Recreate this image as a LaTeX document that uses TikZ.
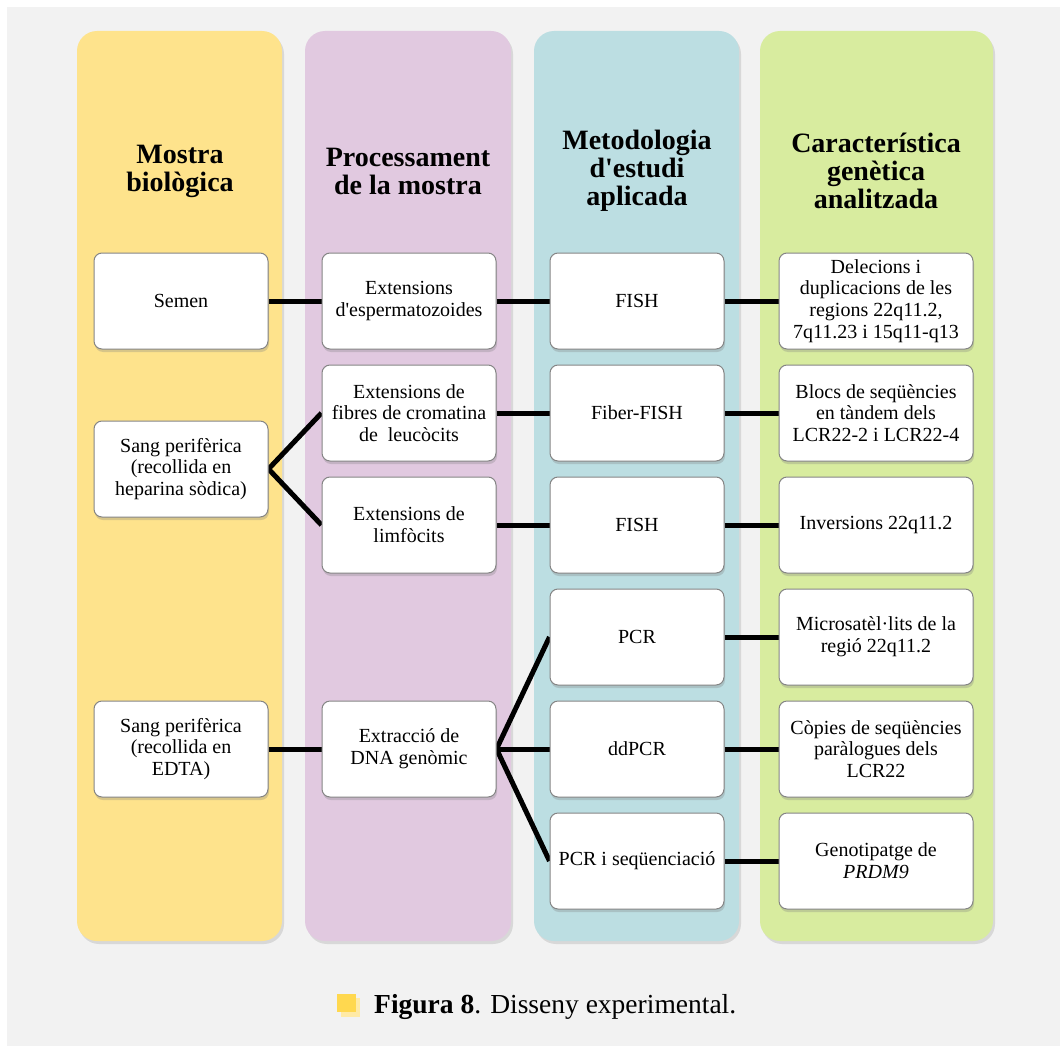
\documentclass[tikz,border=0pt]{standalone}
\usepackage{fontspec}
\setmainfont{Liberation Serif}[Ligatures=TeXOff]
\usetikzlibrary{shadows}
\definecolor{bggrey}{HTML}{F2F2F2}
\definecolor{colyel}{HTML}{FEE38C}
\definecolor{colpur}{HTML}{E1C9E0}
\definecolor{colblu}{HTML}{BCDEE2}
\definecolor{colgrn}{HTML}{D8EC9F}
\definecolor{icodark}{HTML}{FFD84F}
\definecolor{icolight}{HTML}{FFEAA6}
\definecolor{boxline}{HTML}{858585}
\pgfdeclarelayer{back}
\pgfdeclarelayer{mid}
\pgfsetlayers{back,mid,main}
\begin{document}
\begin{tikzpicture}[x=1pt,y=-1pt,
  colbox/.style={rounded corners=20pt, drop shadow={opacity=0.22,shadow xshift=2pt,shadow yshift=-3pt}},
  itembox/.style={draw=boxline, line width=1pt, fill=white, rounded corners=8pt,
    minimum width=174pt, minimum height=96pt, align=center, inner sep=2pt,
    font=\fontsize{20}{21.7}\selectfont,
    drop shadow={opacity=0.3,shadow xshift=1pt,shadow yshift=-3pt}},
  widebox/.style={itembox, minimum width=194pt},
  header/.style={align=center, font=\fontsize{28}{28}\selectfont\bfseries},
  conn/.style={line width=5pt, black}
]
\useasboundingbox (0,0) rectangle (1060,1046);
\begin{pgfonlayer}{back}
\fill[bggrey] (7,7) rectangle (1060,1046);
\fill[colbox, fill=colyel] (77,31) rectangle (282,941);
\fill[colbox, fill=colpur] (305,31) rectangle (511,941);
\fill[colbox, fill=colblu] (534,31) rectangle (739,941);
\fill[colbox, fill=colgrn] (760,31) rectangle (993,941);
\end{pgfonlayer}

% headers
\node[header] (h1) at (180,171) {Mostra\\biològica};
\node[header] (h2) at (408,171) {Processament\\de la mostra};
\node[header] (h3) at (637,171) {Metodologia\\d'estudi\\aplicada};
\node[header] (h4) at (876,171) {Característica\\genètica\\analitzada};

% column 1
\node[itembox] (semen) at (181,301) {Semen};
\node[itembox] (hep) at (181,469) {Sang perifèrica\\(recollida en\\heparina sòdica)};
\node[itembox] (edta) at (181,749) {Sang perifèrica\\(recollida en\\EDTA)};

% column 2
\node[itembox] (esp) at (409,301) {Extensions\\d'espermatozoides};
\node[itembox] (fib) at (409,413) {Extensions de\\fibres de cromatina\\de\ \ leucòcits};
\node[itembox] (lim) at (409,525) {Extensions de\\limfòcits};
\node[itembox] (dna) at (409,749) {Extracció de\\DNA genòmic};

% column 3
\node[itembox] (fish1) at (637,301) {FISH};
\node[itembox] (fiber) at (637,413) {Fiber-FISH};
\node[itembox] (fish2) at (637,525) {FISH};
\node[itembox] (pcr) at (637,637) {PCR};
\node[itembox] (ddpcr) at (637,749) {ddPCR};
\node[itembox] (pcrseq) at (637,861) {PCR i seqüenciació};

% column 4
\node[widebox] (del) at (876,301) {Delecions i\\duplicacions de les\\regions 22q11.2,\\7q11.23 i 15q11-q13};
\node[widebox] (blocs) at (876,413) {Blocs de seqüències\\en tàndem dels\\LCR22-2 i LCR22-4};
\node[widebox] (inv) at (876,525) {Inversions 22q11.2};
\node[widebox] (micro) at (876,637) {Microsatèl·lits de la\\regió 22q11.2};
\node[widebox] (copies) at (876,749) {Còpies de seqüències\\paràlogues dels\\LCR22};
\node[widebox] (geno) at (876,861) {Genotipatge de\\\textit{PRDM9}};

% connectors
\begin{pgfonlayer}{mid}
\draw[conn] (semen.east) -- (esp.west);
\draw[conn] (esp.east) -- (fish1.west);
\draw[conn] (fish1.east) -- (del.west);
\draw[conn] (fib.west) -- (hep.east) -- (lim.west);
\draw[conn] (fib.east) -- (fiber.west);
\draw[conn] (fiber.east) -- (blocs.west);
\draw[conn] (lim.east) -- (fish2.west);
\draw[conn] (fish2.east) -- (inv.west);
\draw[conn] (edta.east) -- (dna.west);
\draw[conn] (pcr.west) -- (dna.east) -- (pcrseq.west);
\draw[conn] (dna.east) -- (ddpcr.west);
\draw[conn] (pcr.east) -- (micro.west);
\draw[conn] (ddpcr.east) -- (copies.west);
\draw[conn] (pcrseq.east) -- (geno.west);
\end{pgfonlayer}

% caption
\fill[icolight] (341,998) rectangle (360,1017);
\fill[icodark] (337,994) rectangle (356,1012);
\node[anchor=base west, inner sep=0pt, font=\fontsize{27.5}{30}\selectfont] (cap) at (374,1013) {\textbf{Figura 8}. Disseny experimental.};
\end{tikzpicture}
\end{document}
